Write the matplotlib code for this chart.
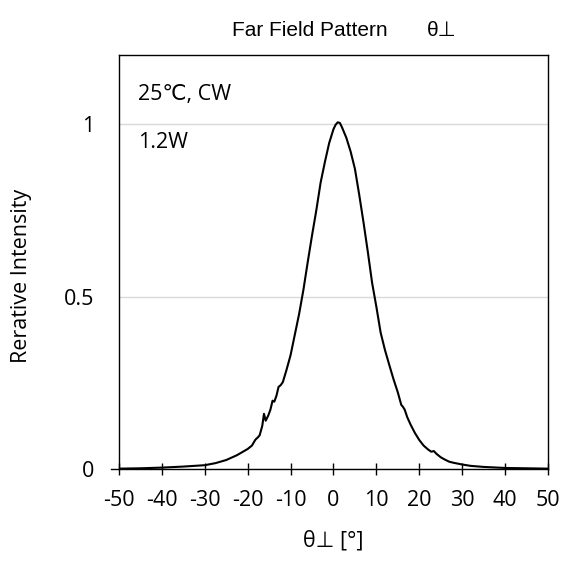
import matplotlib
matplotlib.use("Agg")
import matplotlib.pyplot as plt

plt.rcParams['font.family'] = ['Open Sans', 'DejaVu Sans']

# angle (deg) and relative intensity
theta = [-50, -45, -40, -35, -30, -27.5, -25, -22.5, -20, -19, -18.2, -17.6, -17.2,
         -16.6, -16.2, -15.8, -15.2, -14.7, -14.2, -13.8, -13.3, -12.8, -12.3, -11.8,
         -11, -10, -9, -8, -7, -6, -5, -4, -3, -2, -1, 0, 0.5, 1, 1.5, 2, 3, 4, 5, 6,
         7, 8, 9, 10, 11, 12, 13, 14, 15, 15.8, 16.2, 16.6, 17.2, 18, 19, 20, 21, 22,
         22.8, 23.4, 24, 25, 26, 27, 28, 30, 32, 35, 40, 45, 50]
intensity = [0.001, 0.002, 0.004, 0.007, 0.011, 0.017, 0.026, 0.040, 0.058, 0.068,
             0.085, 0.092, 0.098, 0.125, 0.160, 0.140, 0.155, 0.172, 0.198, 0.195,
             0.212, 0.238, 0.243, 0.252, 0.285, 0.330, 0.390, 0.450, 0.520, 0.600,
             0.677, 0.750, 0.830, 0.890, 0.945, 0.985, 0.998, 1.005, 1.003, 0.990,
             0.960, 0.920, 0.870, 0.795, 0.715, 0.630, 0.540, 0.470, 0.395, 0.345,
             0.302, 0.260, 0.222, 0.186, 0.180, 0.172, 0.150, 0.128, 0.104, 0.084,
             0.068, 0.057, 0.050, 0.052, 0.044, 0.034, 0.027, 0.021, 0.018, 0.013,
             0.009, 0.006, 0.003, 0.002, 0.001]

xticks = [-50, -40, -30, -20, -10, 0, 10, 20, 30, 40, 50]
yticks = [0, 0.5, 1]
ytick_labels = ["0", "0.5", "1"]

fig = plt.figure(figsize=(5.72, 5.62), dpi=100)
ax = fig.add_axes([0.208, 0.1655, 0.75, 0.7366])

ax.plot(theta, intensity, color="black", lw=1.5)

ax.set_xlim(-50, 50)
ax.set_ylim(0, 1.2)
ax.set_xticks(xticks)
ax.set_xticklabels([str(t) for t in xticks])
ax.set_yticks(yticks)
ax.set_yticklabels(ytick_labels)
ax.tick_params(axis="x", direction="inout", length=8, width=1, labelsize=15.5, pad=11)
ax.tick_params(axis="y", length=0, labelsize=15.5, pad=18)
ax.yaxis.grid(True, color="#d9d9d9", lw=1)
ax.set_axisbelow(True)
for s in ax.spines.values():
    s.set_color("black")
    s.set_linewidth(1)
# small outward tick at y=0 only
ax.plot([-51.8, -50], [0, 0], color="black", lw=1, clip_on=False)

ax.text(-45.6, 1.085, "25℃, CW", fontsize=15.5, va="center", ha="left")
ax.text(-45.6, 0.945, "1.2W", fontsize=15.5, va="center", ha="left")

fig.text(232 / 572, 1 - 30 / 562, "Far Field Pattern", fontsize=15,
         ha="left", va="center", family=["Liberation Sans", "DejaVu Sans"])
fig.text(427 / 572, 1 - 30 / 562, "θ⊥", fontsize=15,
         ha="left", va="center", family=["Liberation Sans", "DejaVu Sans"])
ax.set_xlabel("θ⊥ [°]", fontsize=15.5)
ax.xaxis.set_label_coords(0.5, -0.148)
ax.set_ylabel("Rerative Intensity", fontsize=15.5)
ax.yaxis.set_label_coords(-0.203, 0.466)

fig.savefig("out.png", dpi=100)
